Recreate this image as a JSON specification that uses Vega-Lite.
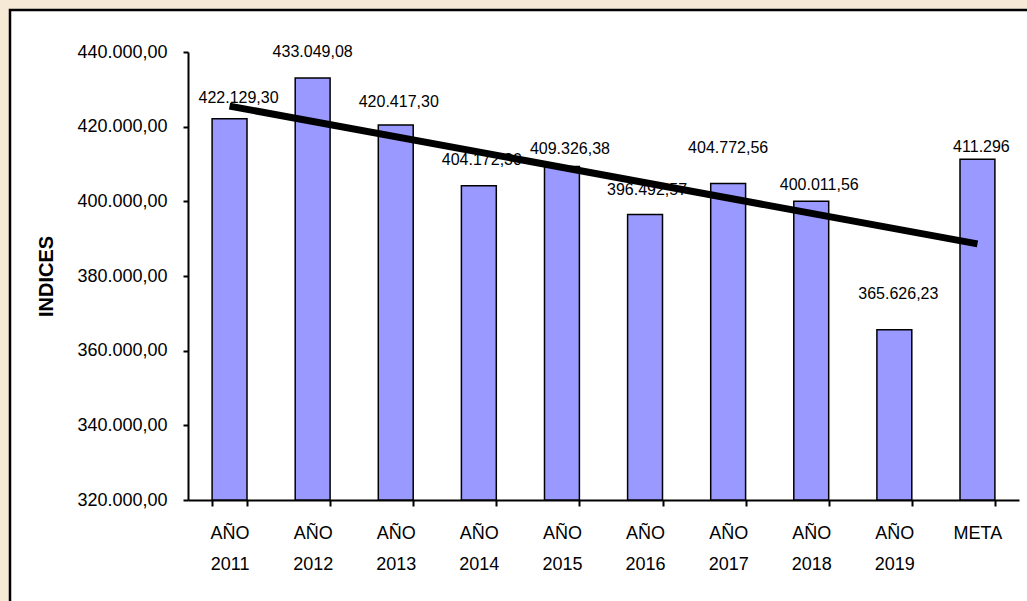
{
  "$schema": "https://vega.github.io/schema/vega-lite/v6.json",
  "width": 1022,
  "height": 596,
  "autosize": {"type": "none"},
  "padding": {"left": 10, "top": 10, "right": 0, "bottom": 0},
  "background": "#F6EAD7",
  "config": {
    "locale": {"number": {"decimal": ",", "thousands": ".", "grouping": [3], "currency": ["", ""]}},
    "view": {"fill": "white", "stroke": "black", "strokeWidth": 2.5},
    "font": "Liberation Sans"
  },
  "datasets": {
    "bars": [
      {"cat": "AÑO 2011", "value": 422129.30, "label": "422.129,30"},
      {"cat": "AÑO 2012", "value": 433049.08, "label": "433.049,08"},
      {"cat": "AÑO 2013", "value": 420417.30, "label": "420.417,30"},
      {"cat": "AÑO 2014", "value": 404172.30, "label": "404.172,30"},
      {"cat": "AÑO 2015", "value": 409326.38, "label": "409.326,38"},
      {"cat": "AÑO 2016", "value": 396492.57, "label": "396.492,57"},
      {"cat": "AÑO 2017", "value": 404772.56, "label": "404.772,56"},
      {"cat": "AÑO 2018", "value": 400011.56, "label": "400.011,56"},
      {"cat": "AÑO 2019", "value": 365626.23, "label": "365.626,23"},
      {"cat": "META", "value": 411296, "label": "411.296"}
    ],
    "trend": [
      {"cat": "AÑO 2011", "value": 425500},
      {"cat": "META", "value": 388600}
    ]
  },
  "layer": [
    {
      "data": {"name": "bars"},
      "mark": {"type": "bar", "fill": "#9999FF", "stroke": "black", "strokeWidth": 1.5},
      "encoding": {
        "x": {
          "field": "cat", "type": "nominal", "sort": null,
          "scale": {"range": [178, 1009], "paddingInner": 0.58, "paddingOuter": 0.29},
          "axis": {
            "title": null, "orient": "bottom", "offset": -106, "labelAngle": 0,
            "labelExpr": "split(datum.label, ' ')",
            "labelFontSize": 18, "labelColor": "black", "labelLineHeight": 31, "labelPadding": 18,
            "tickBand": "extent", "tickSize": 6, "tickColor": "black", "tickWidth": 2,
            "domainColor": "black", "domainWidth": 2, "grid": false
          }
        },
        "y": {
          "field": "value", "type": "quantitative",
          "scale": {"domain": [320000, 440000], "range": [490, 42], "zero": false, "nice": false},
          "axis": {
            "title": "INDICES", "offset": -178, "orient": "left",
            "values": [320000, 340000, 360000, 380000, 400000, 420000, 440000],
            "format": ",.2f", "labelFontSize": 18, "labelColor": "black", "labelPadding": 16,
            "tickSize": 5, "tickWidth": 2, "tickColor": "black",
            "domainColor": "black", "domainWidth": 2, "grid": false,
            "titleFontSize": 20, "titleFontWeight": "bold", "titleColor": "black", "titlePadding": 20
          }
        },
        "y2": {"datum": 320000}
      }
    },
    {
      "data": {"name": "bars"},
      "mark": {
        "type": "text", "fontSize": 16, "baseline": "middle", "align": "center", "color": "black",
        "dy": {"expr": "[-21,-26,-23,-26,-18,-24,-36,-16,-36,-12][indexof(['AÑO 2011','AÑO 2012','AÑO 2013','AÑO 2014','AÑO 2015','AÑO 2016','AÑO 2017','AÑO 2018','AÑO 2019','META'], datum.cat)]"},
        "dx": {"expr": "[9,0,3,3,8,2,0,8,4,4][indexof(['AÑO 2011','AÑO 2012','AÑO 2013','AÑO 2014','AÑO 2015','AÑO 2016','AÑO 2017','AÑO 2018','AÑO 2019','META'], datum.cat)]"}
      },
      "encoding": {
        "x": {"field": "cat", "type": "nominal", "sort": null},
        "y": {"field": "value", "type": "quantitative"},
        "text": {"field": "label"}
      }
    },
    {
      "data": {"name": "trend"},
      "mark": {"type": "line", "color": "black", "strokeWidth": 7, "strokeCap": "butt"},
      "encoding": {
        "x": {"field": "cat", "type": "nominal", "sort": null},
        "y": {"field": "value", "type": "quantitative"}
      }
    }
  ]
}
